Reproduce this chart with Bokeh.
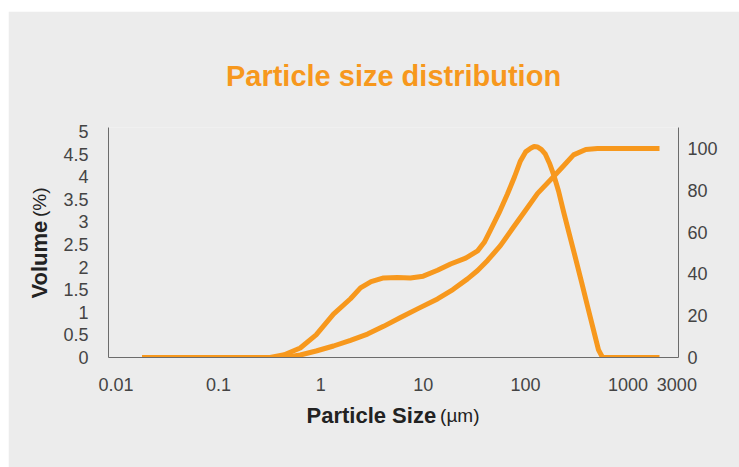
import math
from bokeh.plotting import figure
from bokeh.models import Range1d, LinearAxis, FixedTicker, NumeralTickFormatter, Label
from bokeh.embed import file_html
from bokeh.resources import INLINE

# ---- data ----
size_um = [0.018, 0.05, 0.1, 0.2, 0.32, 0.44, 0.63, 0.9, 1.33, 1.95, 2.44, 3.1, 4.1, 5.6, 7.5, 10,
           13.8, 18.5, 26, 34, 39.5, 45, 55, 66.5, 78, 89, 100, 112, 121, 131, 143, 156, 171,
           187, 210, 234, 268, 307, 352, 402, 460, 515, 564, 2030]
volume_pct = [0, 0, 0, 0, 0, 0.06, 0.21, 0.5, 0.96, 1.3, 1.54, 1.68, 1.76, 1.77, 1.76, 1.8,
              1.93, 2.07, 2.2, 2.36, 2.55, 2.8, 3.2, 3.62, 4.0, 4.35, 4.55, 4.63, 4.67, 4.66, 4.6, 4.5, 4.3,
              4.06, 3.68, 3.24, 2.72, 2.2, 1.67, 1.14, 0.61, 0.17, 0, 0]

cum_size_um = [0.018, 0.1, 0.32, 0.44, 0.63, 0.9, 1.33, 1.95, 2.86, 4.1, 6.0, 9.0, 13.8, 19.5,
               27.1, 34, 42.5, 57, 76, 100, 131, 187, 234, 294, 387, 504, 2030]
cumulative_pct = [0, 0, 0, 0, 1.2, 3.1, 5.5, 8.2, 11.2, 14.9, 19.1, 23.5, 28, 32.5,
                  37.6, 41.6, 46.4, 53.6, 62.3, 70.4, 78.5, 86.4, 91.6, 96.9, 99.5, 100, 100]

x_ticks = [0.01, 0.1, 1, 10, 100, 1000, 3000]
left_ticks = [0, 0.5, 1, 1.5, 2, 2.5, 3, 3.5, 4, 4.5, 5]
right_ticks = [0, 20, 40, 60, 80, 100]

ORANGE = "#F7981D"
BG = "#ECECEC"
AXIS = "#6b6b6b"
TICK_TXT = "#444444"
FONT = "Liberation Sans"

p = figure(x_axis_type="log", x_range=Range1d(0.00845, 3112), y_range=Range1d(0, 5.09),
           width=731, height=456,
           min_border_left=100, min_border_right=61, min_border_top=116, min_border_bottom=110,
           margin=(11, 0, 0, 8),
           output_backend="svg", toolbar_location=None,
           title="Particle size distribution",
           background_fill_color=BG, border_fill_color=BG, outline_line_color=None)

p.extra_y_ranges = {"cum": Range1d(0, 110)}

p.title.text_font = FONT
p.title.text_font_size = "29px"
p.title.text_font_style = "bold"
p.title.text_color = ORANGE
p.title.align = "center"
p.title.standoff = 72

p.xgrid.grid_line_color = None
p.ygrid.grid_line_color = None

# x axis
xa = p.xaxis[0]
xa.ticker = FixedTicker(ticks=x_ticks, minor_ticks=[])
xa.formatter = NumeralTickFormatter(format="0.[00]")
xa.major_label_standoff = 14

# left axis
ya = p.yaxis[0]
ya.ticker = FixedTicker(ticks=left_ticks, minor_ticks=[])
ya.formatter = NumeralTickFormatter(format="0.[0]")
ya.major_label_standoff = 14

# right axis
ra = LinearAxis(y_range_name="cum", ticker=FixedTicker(ticks=right_ticks, minor_ticks=[]))
ra.major_label_standoff = 3
p.add_layout(ra, "right")

for ax in (xa, ya, ra):
    ax.axis_line_color = AXIS
    ax.axis_line_width = 1
    ax.major_tick_line_color = None
    ax.minor_tick_line_color = None
    ax.major_label_text_font = FONT
    ax.major_label_text_font_size = "18px"
    ax.major_label_text_color = TICK_TXT

p.line(size_um, volume_pct, line_width=5, line_color=ORANGE, line_join="round")
p.line(cum_size_um, cumulative_pct, y_range_name="cum", line_width=5,
       line_color=ORANGE, line_join="round")

# axis titles (bold part + regular part), canvas coordinates, in the side panels
lab_kw = dict(x_units="canvas", y_units="canvas", text_font=FONT, text_color="#222222")
p.add_layout(Label(x=298, y=404, text="Particle Size", text_font_style="bold", text_font_size="22px",
                   text_align="left", text_baseline="alphabetic", **lab_kw), "below")
p.add_layout(Label(x=471, y=404, text="(µm)", text_font_style="normal", text_font_size="19px",
                   text_align="right", text_baseline="alphabetic", **lab_kw), "below")
p.add_layout(Label(x=31, y=287, text="Volume", text_font_style="bold", text_font_size="22px",
                   angle=math.pi / 2, text_align="left", text_baseline="alphabetic", **lab_kw), "left")
p.add_layout(Label(x=31, y=176, text="(%)", text_font_style="normal", text_font_size="19px",
                   angle=math.pi / 2, text_align="right", text_baseline="alphabetic", **lab_kw), "left")

open("out.html", "w").write(file_html(p, INLINE))
